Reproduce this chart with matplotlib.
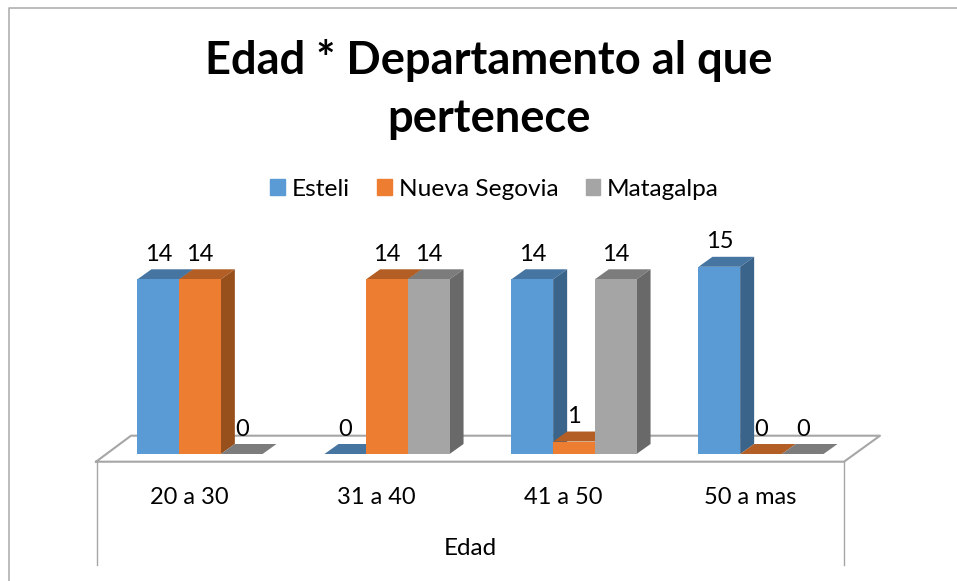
import numpy as np
import matplotlib
matplotlib.use('Agg')
import matplotlib.pyplot as plt
from matplotlib.lines import Line2D

plt.rcParams['font.family'] = ['Lato', 'DejaVu Sans']

categories = ['20 a 30', '31 a 40', '41 a 50', '50 a mas']
esteli = [14, 0, 14, 15]
nueva_segovia = [14, 14, 1, 0]
matagalpa = [0, 14, 14, 0]

W, H = 957, 581
fig = plt.figure(figsize=(W / 100, H / 100), dpi=100)

# axes box in pixels of the picture
left, right, base, top = 96, 844, 454, 254
ax = fig.add_axes([left / W, 1 - base / H, (right - left) / W, (base - top) / H])
ax.set_xlim(-0.5, 3.5)
ax.set_ylim(0, (base - top) / 12.48)
ax.patch.set_alpha(0)
for s in ax.spines.values():
    s.set_visible(False)
ax.set_yticks([])


def px(x, y):
    return x / W, 1 - y / H


# chart frame, floor and the two side walls, behind the axes
grey = '#a6a6a6'
fig.add_artist(Line2D(*zip(px(9, 581), px(9, 7.5), px(957, 7.5)), color='#b0b0b0', lw=1.2, zorder=-1))
floor = [px(96, 461.7), px(844, 461.7), px(880, 435.7), px(131, 435.7), px(96, 461.7)]
fig.add_artist(Line2D(*zip(*floor), color=grey, lw=1.5, zorder=-1))
fig.add_artist(Line2D(*zip(px(96.5, 461.7), px(96.5, 565)), color=grey, lw=1, zorder=-1))
fig.add_artist(Line2D(*zip(px(844, 461.7), px(844, 565)), color=grey, lw=1, zorder=-1))

series = [('Esteli', esteli, '#5b9bd5', '#4675a1', '#3a6489'),
          ('Nueva Segovia', nueva_segovia, '#ed7d31', '#b25e25', '#97501c'),
          ('Matagalpa', matagalpa, '#a5a5a5', '#7c7c7c', '#696969')]

bar_w = 41.7 / 187
dx = 14 / 187
dy = 10 / 12.48
shift = 10.5 / 187  # bars sit a bit right of the tick labels because of the floor depth
x = np.arange(len(categories))

for i in range(len(categories)):
    for j, (name, vals, front, roof, side) in enumerate(series):
        x0 = x[i] + shift + (j - 1.5) * bar_w
        x1 = x0 + bar_w
        v = vals[i]
        ax.fill([x0, x1, x1 + dx, x0 + dx], [v, v, v + dy, v + dy], color=roof, lw=0, zorder=3, clip_on=False)
        ax.fill([x1, x1 + dx, x1 + dx, x1], [0, dy, v + dy, v], color=side, lw=0, zorder=3, clip_on=False)
        if v > 0:
            ax.bar(x0, v, bar_w, align='edge', color=front, zorder=3, clip_on=False)
        ax.annotate(str(v), (x0 + bar_w / 2, v), xytext=(0, 18), textcoords='offset points',
                    ha='center', va='center', fontsize=17, color='black', zorder=5)

handles = [plt.Rectangle((0, 0), 1, 1, color=s[2]) for s in series]
fig.legend(handles, [s[0] for s in series], ncols=3, frameon=False, fontsize=17.6,
           loc='center', bbox_to_anchor=(494.5 / W, 1 - 189 / H), handlelength=0.6, handleheight=0.6,
           handletextpad=0.28, columnspacing=1.12)

ax.set_xticks(x, categories, fontsize=17)
ax.tick_params(axis='x', length=0, pad=24)
ax.set_xlabel('Edad', fontsize=17.5)
ax.xaxis.set_label_coords(0.5, -0.42)

fig.text(489 / W, 1 - 89.5 / H, 'Edad * Departamento al que\npertenece', ha='center', va='center',
         fontsize=32.6, fontweight='bold', linespacing=1.5)

fig.savefig('out.png', dpi=100)
